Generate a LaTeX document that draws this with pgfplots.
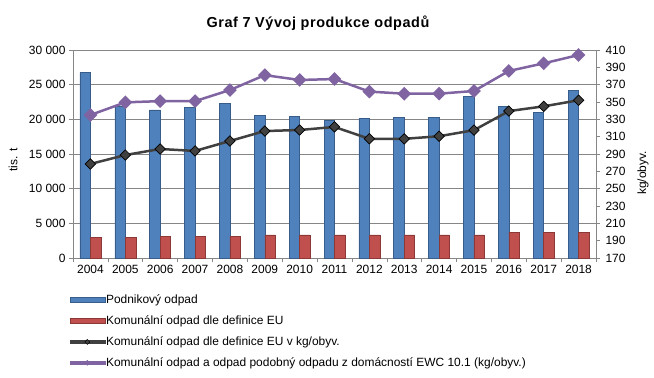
\documentclass[border=0pt]{standalone}
\usepackage{fontspec}
\setmainfont{Liberation Sans}
\usepackage{pgfplots}
\pgfplotsset{compat=1.18}
\definecolor{cblue}{HTML}{4F81BD}
\definecolor{cblueb}{HTML}{385D8A}
\definecolor{cred}{HTML}{C0504D}
\definecolor{credb}{HTML}{8C3836}
\definecolor{cdark}{HTML}{404040}
\definecolor{cpurple}{HTML}{8064A2}
\definecolor{cgrid}{HTML}{868686}
\pgfplotsset{
  barleg/.style={legend image code/.code={\draw[##1] (0bp,-2.5bp) rectangle (35bp,2.5bp);}},
  darkleg/.style={legend image code/.code={\fill[cdark] (0bp,-1.4bp) rectangle (35bp,1.4bp);
     \filldraw[fill=cdark, draw=black, line width=0.5pt] (15bp,0bp) -- (17.5bp,2.5bp) -- (20bp,0bp) -- (17.5bp,-2.5bp) -- cycle;}},
  purpleleg/.style={legend image code/.code={\fill[cpurple] (0bp,-1.4bp) rectangle (35bp,1.4bp);
     \filldraw[fill=cpurple, draw=cpurple, line width=0.5pt] (15bp,0bp) -- (17.5bp,2.5bp) -- (20bp,0bp) -- (17.5bp,-2.5bp) -- cycle;}},
  common/.style={
    at={(73bp,119bp)}, anchor=south west,
    scale only axis, width=523bp, height=208bp,
    xmin=-0.5, xmax=14.5,
    tick label style={font=\fontsize{12}{14}\selectfont, text=black},
    /pgf/number format/assume math mode=true,
    axis line style={cgrid, line width=0.6pt},
    tick style={cgrid, line width=0.6pt},
    major tick length=4bp, minor tick length=4bp,
  }
}
\begin{document}
\begin{tikzpicture}[x=1bp,y=1bp]
\useasboundingbox (0,0) rectangle (654,377);
\begin{axis}[common,
  ymin=0, ymax=30000,
  ytick={0,5000,...,30000},
  scaled y ticks=false,
  yticklabel style={/pgf/number format/.cd, 1000 sep={\ }},
  xtick={0,...,14},
  xticklabels={2004,2005,2006,2007,2008,2009,2010,2011,2012,2013,2014,2015,2016,2017,2018},
  minor xtick={-0.5,0.5,...,14.5},
  x tick style={draw=none},
  minor x tick style={cgrid, draw=cgrid},
  tick align=outside,
  axis x line*=bottom, axis y line*=left,
  ymajorgrids, grid style={cgrid, line width=0.6pt},
  ybar=0pt, bar width=10.5bp,
  legend style={at={(rel axis cs:-0.007,-0.172)}, anchor=north west,
    draw=none, fill=none, font=\fontsize{12}{14}\selectfont,
    cells={anchor=west}, row sep=8.6bp, inner sep=0pt,
    nodes={inner sep=1bp}},
  legend cell align=left,
]
\addplot[fill=cblue, draw=cblueb, line width=0.5pt, barleg]
 coordinates {(0,26750) (1,21950) (2,21350) (3,21700) (4,22250) (5,20600) (6,20450) (7,19900) (8,20150) (9,20300) (10,20300) (11,23350) (12,21900) (13,21050) (14,24200)};
\addlegendentry{Podnikový odpad}
\addplot[fill=cred, draw=credb, line width=0.5pt, barleg]
 coordinates {(0,2950) (1,2950) (2,3150) (3,3150) (4,3150) (5,3350) (6,3350) (7,3350) (8,3350) (9,3350) (10,3350) (11,3350) (12,3750) (13,3750) (14,3750)};
\addlegendentry{Komunální odpad dle definice EU}
\addlegendimage{darkleg}
\addlegendentry{Komunální odpad dle definice EU v kg/obyv.}
\addlegendimage{purpleleg}
\addlegendentry{Komunální odpad a odpad podobný odpadu z domácností EWC 10.1 (kg/obyv.)}
\end{axis}
\begin{axis}[common,
  ymin=170, ymax=410,
  ytick={170,190,...,410},
  axis x line=none, axis y line*=right,
  tick align=outside,
  yticklabel style={xshift=2bp},
]
\addplot[cdark, line width=2.5bp, mark=square*, mark size=3.7bp,
  mark options={rotate=45, fill=cdark, draw=black, line width=0.7pt}]
 coordinates {(0,278.5) (1,288.8) (2,295.8) (3,293.5) (4,305) (5,316.5) (6,317.7) (7,321.2) (8,307.5) (9,307.5) (10,310.5) (11,317.5) (12,339.5) (13,345) (14,352)};
\addplot[cpurple, line width=2.5bp, mark=square*, mark size=3.6bp,
  mark options={rotate=45, fill=cpurple, draw=cpurple}]
 coordinates {(0,335) (1,349.6) (2,351) (3,351) (4,363.8) (5,381) (6,375.4) (7,376.5) (8,362) (9,359.6) (10,359.6) (11,362.7) (12,385.8) (13,394.6) (14,404.2)};
\end{axis}
\node[font=\bfseries\fontsize{14.5}{16}\selectfont\addfontfeatures{LetterSpace=4}] at (318,354) {Graf 7 Vývoj produkce odpadů};
\node[rotate=90, font=\fontsize{12}{14}\selectfont] at (13,217) {tis. t};
\node[rotate=90, font=\fontsize{12}{14}\selectfont] at (643,204) {kg/obyv.};
\end{tikzpicture}
\end{document}
